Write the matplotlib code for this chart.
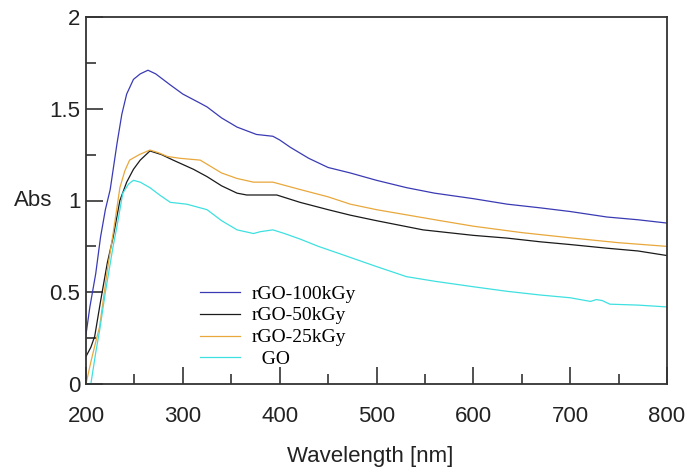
import matplotlib
matplotlib.use("Agg")
import matplotlib.pyplot as plt
from matplotlib.ticker import MultipleLocator, FuncFormatter

# ---- data ----
blue_x = [200, 204, 210, 215, 220, 225, 232, 237, 242, 249, 256, 264, 272, 287, 300, 318, 325,
          340, 356, 366, 376, 393, 400, 411, 430, 450, 473, 500, 531, 560, 600, 635, 669, 700,
          738, 770, 800]
blue_y = [0.27, 0.42, 0.60, 0.80, 0.95, 1.06, 1.31, 1.47, 1.58, 1.66, 1.69, 1.71, 1.69, 1.63,
          1.58, 1.53, 1.51, 1.45, 1.40, 1.38, 1.36, 1.35, 1.33, 1.29, 1.23, 1.18, 1.15, 1.11,
          1.07, 1.04, 1.01, 0.98, 0.96, 0.94, 0.91, 0.895, 0.877]

black_x = [200, 205, 209, 215, 222, 228, 235, 242, 249, 256, 266, 278, 290, 311, 325, 340, 356,
           366, 397, 421, 450, 473, 500, 548, 600, 635, 669, 700, 738, 770, 800]
black_y = [0.15, 0.20, 0.26, 0.45, 0.66, 0.80, 1.00, 1.10, 1.17, 1.22, 1.27, 1.25, 1.22, 1.17,
           1.13, 1.08, 1.04, 1.03, 1.03, 0.99, 0.95, 0.92, 0.89, 0.84, 0.81, 0.795, 0.775, 0.76,
           0.74, 0.725, 0.70]

orange_x = [200, 205, 211, 214, 222, 228, 235, 240, 245, 255, 266, 275, 284, 297, 318, 340, 356,
            373, 393, 421, 450, 473, 500, 566, 600, 650, 703, 750, 800]
orange_y = [0.0, 0.12, 0.25, 0.31, 0.62, 0.82, 1.07, 1.16, 1.22, 1.25, 1.275, 1.26, 1.24, 1.23,
            1.22, 1.15, 1.12, 1.10, 1.10, 1.06, 1.02, 0.98, 0.95, 0.89, 0.86, 0.825, 0.795, 0.77,
            0.75]

cyan_x = [205, 210, 214, 220, 228, 232, 238, 244, 249, 256, 266, 276, 287, 304, 325, 340, 356,
          373, 380, 393, 405, 421, 440, 462, 500, 531, 560, 600, 635, 669, 700, 721, 727, 733,
          741, 770, 800]
cyan_y = [0.0, 0.17, 0.29, 0.50, 0.75, 0.86, 1.04, 1.09, 1.11, 1.10, 1.07, 1.03, 0.99, 0.98,
          0.95, 0.89, 0.84, 0.82, 0.83, 0.84, 0.82, 0.79, 0.75, 0.71, 0.64, 0.585, 0.56, 0.53,
          0.505, 0.485, 0.47, 0.45, 0.46, 0.455, 0.435, 0.43, 0.42]

labels = ["rGO-100kGy", "rGO-50kGy", "rGO-25kGy", "  GO"]
colors = ["#3a3ab4", "#1a1a1a", "#e8a83c", "#3fe0e0"]

x_ticks = [200, 300, 400, 500, 600, 700, 800]
y_ticks = [0, 0.5, 1, 1.5, 2]

# ---- figure ----
fig = plt.figure(figsize=(6.87, 4.72), dpi=100)
ax = fig.add_axes([86 / 687, 1 - 384 / 472, 581 / 687, 367 / 472])

series = [(blue_x, blue_y), (black_x, black_y), (orange_x, orange_y), (cyan_x, cyan_y)]
for (xs, ys), c, lab in zip(series, colors, labels):
    ax.plot(xs, ys, color=c, lw=0.9, label=lab)

ax.set_xlim(200, 800)
ax.set_ylim(0, 2)
ax.set_xticks(x_ticks)
ax.set_yticks(y_ticks)
ax.xaxis.set_minor_locator(MultipleLocator(50))
ax.yaxis.set_minor_locator(MultipleLocator(0.25))
ax.yaxis.set_major_formatter(FuncFormatter(lambda v, p: f"{v:g}"))

sans = "Liberation Sans"
ax.tick_params(axis="both", which="major", direction="in", length=12, width=1.1,
               labelsize=16, color="#222222")
ax.tick_params(axis="both", which="minor", direction="in", length=7, width=1.1,
               color="#222222")
ax.tick_params(axis="x", which="major", pad=16)
ax.tick_params(axis="y", which="major", pad=4)
for lab in ax.get_xticklabels() + ax.get_yticklabels():
    lab.set_fontfamily(sans)
    lab.set_color("#222222")

for side, sp in ax.spines.items():
    sp.set_linewidth(1.3)
    sp.set_color("#333333")

ax.set_xlabel("Wavelength [nm]", fontsize=16, family=sans, color="#222222")
ax.xaxis.set_label_coords(0.489, -0.170)
ax.set_ylabel("Abs", fontsize=16, family=sans, rotation=0, color="#222222",
              ha="center", va="center")
ax.yaxis.set_label_coords(-0.091, 0.50)

leg = ax.legend(loc="upper left", bbox_to_anchor=((200 - 86) / 581, (384 - 285) / 367),
                frameon=False, prop={"family": "Liberation Serif", "size": 14},
                handlelength=2.05, handletextpad=0.6, labelspacing=0.22, borderpad=0,
                borderaxespad=0)

fig.savefig("out.png", dpi=100)
